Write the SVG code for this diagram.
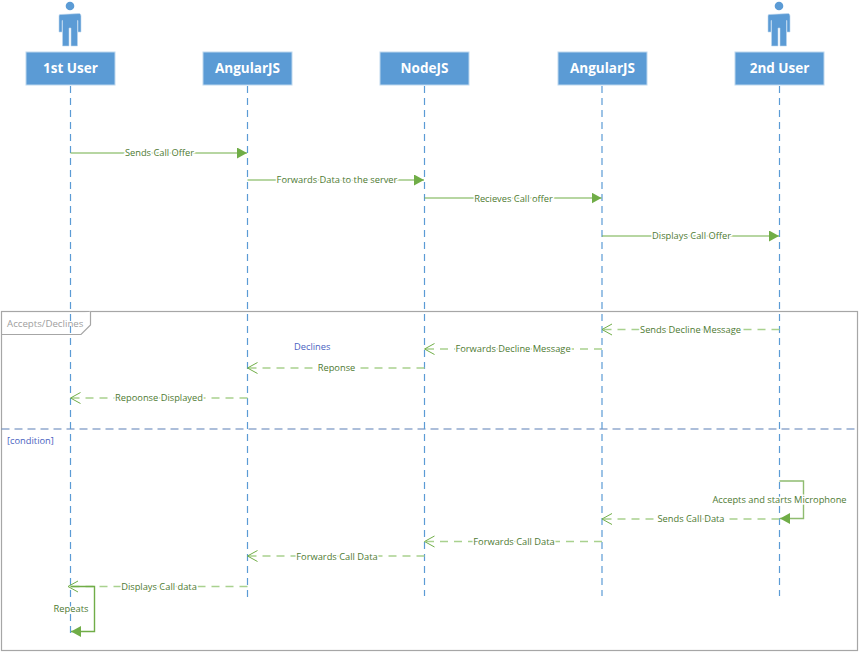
<svg xmlns="http://www.w3.org/2000/svg" width="859" height="652" viewBox="0 0 859 652">
<style>
text{font-family:"Open Sans","Noto Sans","Liberation Sans",sans-serif}
.box{fill:#5b9bd5;stroke:#bdd7ee;stroke-width:1}
.name{fill:#fff;font-size:13.5px;font-weight:700;text-anchor:middle}
.life{stroke:#5b9bd5;stroke-width:1.2;stroke-dasharray:7 5;fill:none}
.msg{stroke:#70ad47;stroke-width:1.2;fill:none}
.ret{stroke:#a9d18e;stroke-width:1.6;stroke-dasharray:8 6;fill:none}
.lbl{fill:#4e7a32;font-size:9.3px;text-anchor:middle;paint-order:stroke;stroke:#fff;stroke-width:3px}
.open{fill:none;stroke:#70ad47;stroke-width:1}
.solid{fill:#70ad47;stroke:none}
.frame{fill:none;stroke:#a6a6a6;stroke-width:1.2}
.blue{fill:#4a5fc1;font-size:9.3px}
</style>
<defs>
<marker id="tri" markerUnits="userSpaceOnUse" markerWidth="11" markerHeight="12" refX="10" refY="5.5" orient="auto"><path class="solid" d="M0 0L10 5.500L0 11Z"/></marker>
<marker id="opn" markerUnits="userSpaceOnUse" markerWidth="12" markerHeight="14" refX="11" refY="6" orient="auto"><path class="open" d="M1 0.500L11 6L1 11.500"/></marker>
<g id="person"><circle cx="0" cy="6" r="4.300" fill="#5b9bd5"/><path d="M-9.500 14.500Q-11 14-11 16V32H-8V20.500H-7.500V46H-1V28H1V46H7.500V20.500H8V32H11V16Q11 14 9.500 13.500Z" fill="#5b9bd5" stroke="#bdd7ee" stroke-width=".6"/></g>
</defs>
<g id="frame">
<rect class="frame" x="1.500" y="311.500" width="856" height="339"/>
<path d="M1.500 334.500H81L90.500 325V311.500" fill="#fff" stroke="#a6a6a6" stroke-width="1.200"/>
<text x="7" y="326.500" fill="#a0a0a0" font-size="9.700">Accepts/Declines</text>
<path d="M1.500 429H857.500" stroke="#5b7fb5" stroke-width="1.200" stroke-dasharray="8 5" fill="none"/>
<text x="7" y="444" class="blue">[condition]</text>
<text x="294" y="350" class="blue">Declines</text>
</g>
<g id="lifelines">
<path class="life" d="M70.500 86V634"/>
<path class="life" d="M247.500 86V598"/>
<path class="life" d="M424.500 86V596"/>
<path class="life" d="M602 86V596"/>
<path class="life" d="M779.500 86V596"/>
</g>
<g id="connectors">
<path class="msg" marker-end="url(#tri)" d="M70.500 153H247"/>
<path class="msg" marker-end="url(#tri)" d="M247.500 180H424"/>
<path class="msg" marker-end="url(#tri)" d="M424.500 198H601.500"/>
<path class="msg" marker-end="url(#tri)" d="M602 236H779"/>
<path class="ret" marker-end="url(#opn)" d="M779.500 329.500H602"/>
<path class="ret" marker-end="url(#opn)" d="M602 349H424.500"/>
<path class="ret" marker-end="url(#opn)" d="M424.500 368H247.500"/>
<path class="ret" marker-end="url(#opn)" d="M247.500 398H70.500"/>
<path class="ret" marker-end="url(#opn)" d="M779.500 519H602"/>
<path class="ret" marker-end="url(#opn)" d="M602 541.500H424.500"/>
<path class="ret" marker-end="url(#opn)" d="M424.500 556H247.500"/>
<path class="ret" marker-end="url(#opn)" d="M247.500 586.500H68"/>
<path d="M779.500 481H803.500V518.500H780" stroke="#8fbc70" stroke-width="1.400" fill="none" marker-end="url(#tri)"/>
<path d="M70.500 586.500H94.500V631.500H71" stroke="#70ad47" stroke-width="1.400" fill="none" marker-end="url(#tri)"/>
</g>
<g id="labels">
<text class="lbl" x="159.500" y="156">Sends Call Offer</text>
<text class="lbl" x="337" y="183">Forwards Data to the server</text>
<text class="lbl" x="513.500" y="201.500">Recieves Call offer</text>
<text class="lbl" x="691.500" y="239">Displays Call Offer</text>
<text class="lbl" x="690.500" y="333">Sends Decline Message</text>
<text class="lbl" x="513" y="352">Forwards Decline Message</text>
<text class="lbl" x="336.500" y="371">Reponse</text>
<text class="lbl" x="159" y="401">Repoonse Displayed</text>
<text class="lbl" x="779.500" y="503">Accepts and starts Microphone</text>
<text class="lbl" x="691" y="522">Sends Call Data</text>
<text class="lbl" x="514" y="545">Forwards Call Data</text>
<text class="lbl" x="337" y="559.500">Forwards Call Data</text>
<text class="lbl" x="159" y="590">Displays Call data</text>
<text class="lbl" x="71" y="612">Repeats</text>
</g>
<g id="user1"><use href="#person" x="70"/><rect class="box" x="26" y="52" width="89" height="33"/><text class="name" x="70.500" y="73">1st User</text></g>
<g id="angular1"><rect class="box" x="203" y="52" width="89" height="33"/><text class="name" x="247.500" y="73">AngularJS</text></g>
<g id="node"><rect class="box" x="380" y="52" width="89" height="33"/><text class="name" x="424.500" y="73">NodeJS</text></g>
<g id="angular2"><rect class="box" x="558" y="52" width="89" height="33"/><text class="name" x="602.500" y="73">AngularJS</text></g>
<g id="user2"><use href="#person" x="779"/><rect class="box" x="735" y="52" width="89" height="33"/><text class="name" x="779.500" y="73">2nd User</text></g>
</svg>
